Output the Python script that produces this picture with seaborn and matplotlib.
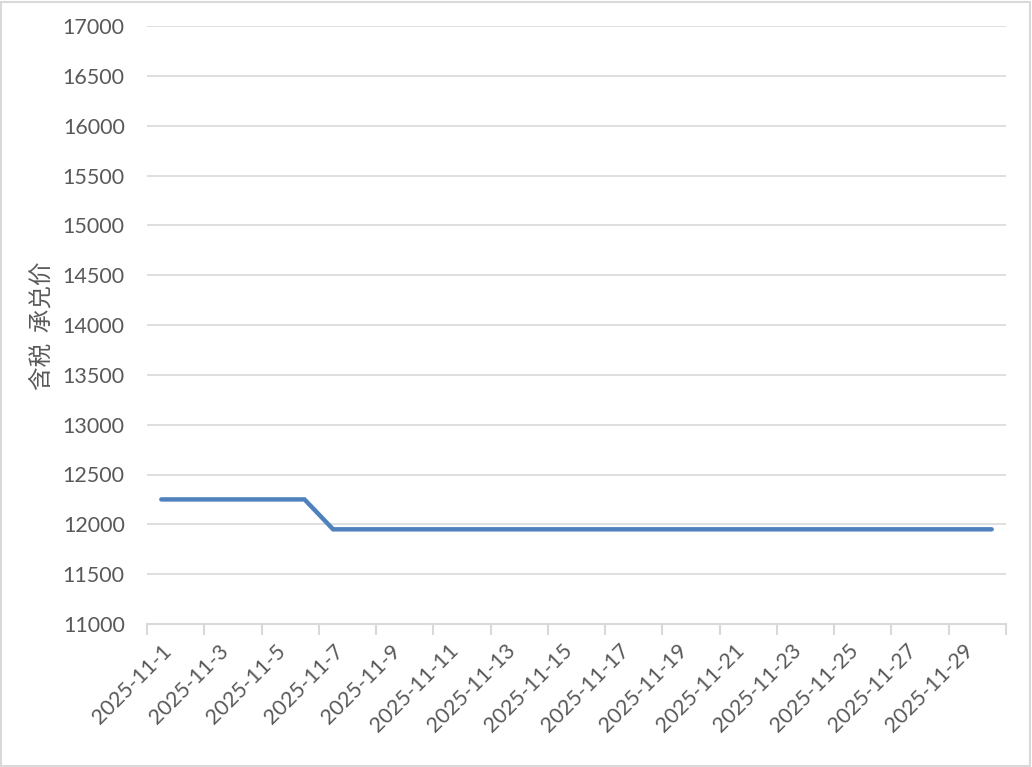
import matplotlib
matplotlib.use("Agg")
import matplotlib.pyplot as plt
import seaborn as sns
import pandas as pd
from matplotlib.patches import Rectangle

days = list(range(1, 31))
dates = [f"2025-11-{d}" for d in days]
prices = [12250] * 6 + [11950] * 24
y_ticks = list(range(11000, 17001, 500))
y_label = "含税  承兑价"

sns.set_theme(style="white")
plt.rcParams['font.family'] = ['Lato', 'Noto Sans CJK SC', 'DejaVu Sans']

df = pd.DataFrame({"day": days, "price": prices})

fig = plt.figure(figsize=(10.32, 7.67), dpi=100)
ax = fig.add_axes([147/1032, 1 - 624/767, (1006-147)/1032, (624-26)/767])

sns.lineplot(data=df, x="day", y="price", ax=ax, color="#4F81BD", linewidth=3.2,
             solid_capstyle="round", solid_joinstyle="miter")

ax.set_xlim(0.5, 30.5)
ax.set_ylim(11000, 17000)
ax.set_yticks(y_ticks)
ax.set_yticklabels([str(v) for v in y_ticks], fontsize=15.5, color="#595959")
ax.tick_params(axis="y", length=0, pad=16)

# category boundary ticks (major) and label positions (minor)
ax.set_xticks([0.5 + 2 * i for i in range(16)])
ax.set_xticklabels([])
ax.tick_params(axis="x", which="major", length=8, width=1.5, color="#D9D9D9", direction="out")
ax.set_xticks(days[::2], minor=True)
ax.set_xticklabels(dates[::2], minor=True, rotation=45, ha="right", rotation_mode="anchor",
                   fontsize=15.5, color="#595959")
ax.tick_params(axis="x", which="minor", length=0, pad=12)
ax.xaxis.set_tick_params(which="both", bottom=True)

ax.grid(axis="y", color="#D9D9D9", linewidth=1.2)
ax.grid(axis="x", visible=False)
for s in ["top", "right", "left"]:
    ax.spines[s].set_visible(False)
ax.spines["bottom"].set_color("#D9D9D9")
ax.spines["bottom"].set_linewidth(1.5)

ax.set_xlabel("")
ax.set_ylabel("")
fig.text(42/1032, 1 - 326/767, y_label, rotation=90, ha="center", va="center",
         fontsize=17, color="#595959", family=['Noto Sans CJK SC', 'DejaVu Sans'])

fig.patches.append(Rectangle((0.001, 0.001), 0.997, 0.997, transform=fig.transFigure,
                             fill=False, edgecolor="#D9D9D9", linewidth=1.5))

fig.savefig("out.png", dpi=100, facecolor="white")
